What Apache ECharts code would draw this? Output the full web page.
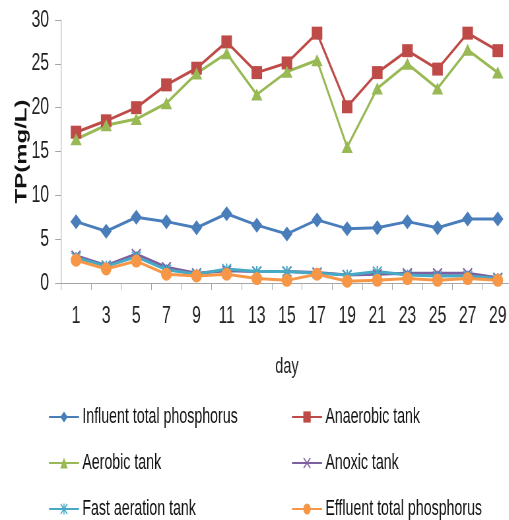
<!DOCTYPE html>
<html>
<head>
<meta charset="utf-8">
<script src="https://cdn.jsdelivr.net/npm/echarts@6/dist/echarts.min.js"></script>
<style>
html,body{margin:0;padding:0;background:#fff;overflow:hidden}
#wrap{width:509px;height:520px;overflow:hidden}
#c{width:771px;height:520px;transform:scaleX(0.66);transform-origin:0 0}
</style>
</head>
<body>
<div id="wrap"><div id="c"></div></div>
<script>
var days = ['1','3','5','7','9','11','13','15','17','19','21','23','25','27','29'];
var influent = [7.0, 5.9, 7.5, 7.0, 6.3, 7.9, 6.6, 5.6, 7.2, 6.2, 6.3, 7.0, 6.3, 7.3, 7.3];
var anaerobic = [17.2, 18.5, 20.0, 22.6, 24.5, 27.5, 24.0, 25.1, 28.5, 20.1, 24.0, 26.5, 24.4, 28.5, 26.5];
var aerobic = [16.4, 18.0, 18.7, 20.5, 23.9, 26.2, 21.5, 24.1, 25.4, 15.5, 22.2, 25.0, 22.2, 26.6, 24.0];
var anoxic = [3.1, 2.0, 3.3, 1.8, 1.1, 1.4, 1.3, 1.3, 1.2, 0.9, 1.0, 1.1, 1.1, 1.1, 0.6];
var fastAeration = [2.9, 1.9, 3.0, 1.5, 1.0, 1.6, 1.3, 1.3, 1.1, 0.9, 1.3, 0.9, 0.8, 0.8, 0.5];
var effluent = [2.6, 1.6, 2.5, 1.0, 0.8, 1.0, 0.5, 0.3, 1.0, 0.2, 0.3, 0.5, 0.3, 0.5, 0.3];
var names = ['Influent total phosphorus','Anaerobic tank','Aerobic tank','Anoxic tank','Fast aeration tank','Effluent total phosphorus'];

var FONT = '"Liberation Sans",Arial,sans-serif';
var xPath = 'path://M1,0 L5,4 L9,0 L10,1 L6,5 L10,9 L9,10 L5,6 L1,10 L0,9 L4,5 L0,1 Z';
var starPath = 'path://M1,0 L5,4 L9,0 L10,1 L6,5 L10,9 L9,10 L5,6 L1,10 L0,9 L4,5 L0,1 Z M4.3,0 L5.7,0 L5.7,10 L4.3,10 Z';

function mk(name, data, color, symbol, size) {
  return {
    name: name, type: 'line', data: data,
    symbol: symbol, symbolSize: size,
    lineStyle: {color: color, width: 3},
    itemStyle: {color: color},
    emphasis: {disabled: true},
    animation: false
  };
}

var legendText = {fontFamily: FONT, fontSize: 21.5, color: '#111', lineHeight: 22};
var chart = echarts.init(document.getElementById('c'), null, {renderer: 'canvas'});
chart.setOption({
  backgroundColor: '#fff',
  animation: false,
  grid: {left: 92.4, top: 20, right: -6, bottom: 237, containLabel: false, outerBoundsMode: 'none'},
  xAxis: {
    type: 'category', data: days, boundaryGap: true,
    name: 'day', nameLocation: 'middle', nameGap: 73, nameMoveOverlap: false,
    nameTextStyle: {fontFamily: FONT, fontSize: 22, color: '#222'},
    axisLine: {lineStyle: {color: '#a6a6a6', width: 1}},
    axisTick: {show: true, alignWithLabel: false, length: 7, lineStyle: {color: '#a6a6a6'}},
    axisLabel: {fontFamily: FONT, fontSize: 24, color: '#222', margin: 21, interval: 0}
  },
  yAxis: {
    type: 'value', min: 0, max: 30, interval: 5,
    name: 'TP(mg/L)', nameLocation: 'middle', nameGap: 47, nameRotate: 90, nameMoveOverlap: false,
    nameTextStyle: {fontFamily: FONT, fontWeight: 'bold', fontSize: 24, color: '#111'},
    axisLine: {show: true, lineStyle: {color: '#a6a6a6', width: 1}},
    axisTick: {show: true, length: 9, lineStyle: {color: '#a6a6a6'}},
    splitLine: {show: false},
    axisLabel: {fontFamily: FONT, fontSize: 24, color: '#222', margin: 18}
  },
  legend: [
    {
      data: [names[0], names[2], names[4]], orient: 'vertical', left: 68.2, top: 401, height: 150,
      itemWidth: 45.5, itemHeight: 14, itemGap: 24, textStyle: legendText
    },
    {
      data: [names[1], names[3], names[5]], orient: 'vertical', left: 436.4, top: 401, height: 150,
      itemWidth: 45.5, itemHeight: 14, itemGap: 24, textStyle: legendText
    }
  ],
  series: [
    mk(names[0], influent, '#4a7ebb', 'diamond', [17, 15]),
    mk(names[1], anaerobic, '#be4b48', 'rect', [16, 13]),
    mk(names[2], aerobic, '#98b954', 'triangle', [17, 12]),
    mk(names[3], anoxic, '#7d60a0', xPath, [15, 11]),
    mk(names[4], fastAeration, '#46aac5', starPath, [15, 11]),
    mk(names[5], effluent, '#f79646', 'circle', [16, 13])
  ]
});
</script>
</body>
</html>
